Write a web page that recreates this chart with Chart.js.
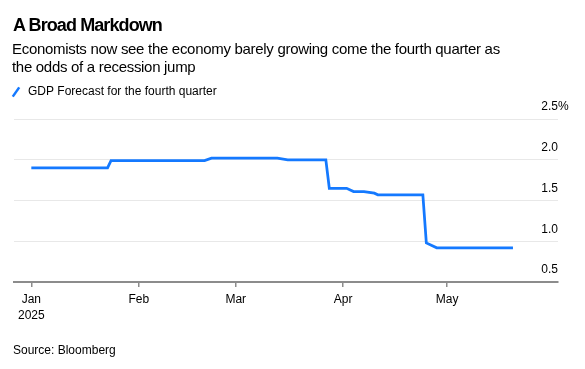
<!DOCTYPE html>
<html>
<head>
<meta charset="utf-8">
<script src="https://cdn.jsdelivr.net/npm/chart.js@4.4.1/dist/chart.umd.min.js"></script>
<style>
  html, body { margin: 0; padding: 0; background: #fff; }
  body { width: 585px; height: 369px; position: relative; overflow: hidden;
         font-family: 'Liberation Sans', Arial, sans-serif; color: #000; }
  #title { position: absolute; left: 13px; top: 14px; font-size: 18px; line-height: 22px;
           font-weight: bold; letter-spacing: -0.9px; }
  #subtitle { position: absolute; left: 12px; top: 40px; font-size: 15px; line-height: 18.4px;
              letter-spacing: -0.3px; white-space: nowrap; }
  #source { position: absolute; left: 13px; top: 343px; font-size: 12px; line-height: 14px; }
  canvas { position: absolute; left: 0; top: 0; }
</style>
</head>
<body>
<canvas id="chart" width="585" height="369"></canvas>
<div id="title">A Broad Markdown</div>
<div id="subtitle">Economists now see the economy barely growing come the fourth quarter as<br>the odds of a recession jump</div>
<div id="source">Source: Bloomberg</div>
<script>
// Bloomberg survey, GDP forecast for Q4 (%)
const dates = [
  '2025-01-01', '2025-01-23', '2025-01-24', '2025-02-20', '2025-02-22',
  '2025-03-13', '2025-03-16', '2025-03-27', '2025-03-28', '2025-04-02',
  '2025-04-04', '2025-04-07', '2025-04-10', '2025-04-11', '2025-04-24',
  '2025-04-25', '2025-04-28', '2025-05-20'
];
const gdpForecast = [
  1.90, 1.90, 1.99, 1.99, 2.02,
  2.02, 2.00, 2.00, 1.65, 1.65,
  1.61, 1.61, 1.59, 1.57, 1.57,
  0.98, 0.92, 0.92
];
const monthTicks = ['2025-01-01', '2025-02-01', '2025-03-01', '2025-04-01', '2025-05-01'];
const monthLabels = [['Jan', '2025'], 'Feb', 'Mar', 'Apr', 'May'];
const yTicks = [0.5, 1.0, 1.5, 2.0, 2.5];

const DAY = 86400000;
const start = Date.parse('2025-01-01');
const toDay = d => (Date.parse(d) - start) / DAY;

Chart.defaults.font.family = "'Liberation Sans', Arial, sans-serif";
Chart.defaults.font.size = 12;
Chart.defaults.color = '#000';

// push the plot area down a bit under the legend
const legendGap = {
  id: 'legendGap',
  beforeInit(chart) {
    const fit = chart.legend.fit;
    chart.legend.fit = function () {
      fit.call(this);
      this.height += 11;
    };
  }
};

// unit sign after the top y label
const percentSign = {
  id: 'percentSign',
  afterDraw(chart) {
    const y = chart.scales.y;
    const ctx = chart.ctx;
    ctx.save();
    ctx.font = "12px 'Liberation Sans', Arial, sans-serif";
    ctx.fillStyle = '#000';
    ctx.textAlign = 'left';
    ctx.textBaseline = 'middle';
    ctx.fillText('%', chart.chartArea.right, y.getPixelForValue(y.max) - 12);
    ctx.restore();
  }
};

new Chart(document.getElementById('chart'), {
  type: 'line',
  data: {
    datasets: [{
      label: 'GDP Forecast for the fourth quarter',
      data: dates.map((d, i) => ({ x: toDay(d), y: gdpForecast[i] })),
      borderColor: '#1479ff',
      borderWidth: 2.75,
      tension: 0,
      pointRadius: 0,
      pointHoverRadius: 0,
      pointStyle: 'line',
      pointRotation: -55,
      pointBorderColor: '#1479ff',
      pointBorderWidth: 2.5
    }]
  },
  options: {
    responsive: false,
    animation: false,
    layout: { padding: { top: 76, left: 0, right: 27, bottom: 40 } },
    plugins: {
      legend: {
        position: 'top',
        align: 'start',
        labels: { usePointStyle: true, boxHeight: 8, padding: 10, color: '#000', font: { size: 12 } }
      },
      tooltip: { enabled: false }
    },
    scales: {
      x: {
        type: 'linear',
        min: toDay('2024-12-27'),
        max: toDay('2025-06-02'),
        afterFit: s => { s.paddingLeft = 14; },
        afterBuildTicks: s => { s.ticks = monthTicks.map(d => ({ value: toDay(d) })); },
        ticks: {
          padding: 5,
          maxRotation: 0,
          autoSkip: false,
          font: { size: 12, lineHeight: 16 / 12 },
          callback: (v, i) => monthLabels[i]
        },
        grid: { drawOnChartArea: false, drawTicks: true, tickLength: 5, color: '#8c8c8c', lineWidth: 1.5 },
        border: { display: true, color: '#8c8c8c', width: 2 }
      },
      y: {
        position: 'right',
        min: 0.5,
        max: 2.5,
        afterBuildTicks: s => { s.ticks = yTicks.map(v => ({ value: v })); },
        ticks: {
          mirror: true,
          padding: 0,
          labelOffset: -12,
          callback: v => v.toFixed(1)
        },
        grid: { color: '#e8e8e8', lineWidth: 1, drawTicks: false },
        border: { display: false }
      }
    }
  },
  plugins: [legendGap, percentSign]
});
</script>
</body>
</html>
